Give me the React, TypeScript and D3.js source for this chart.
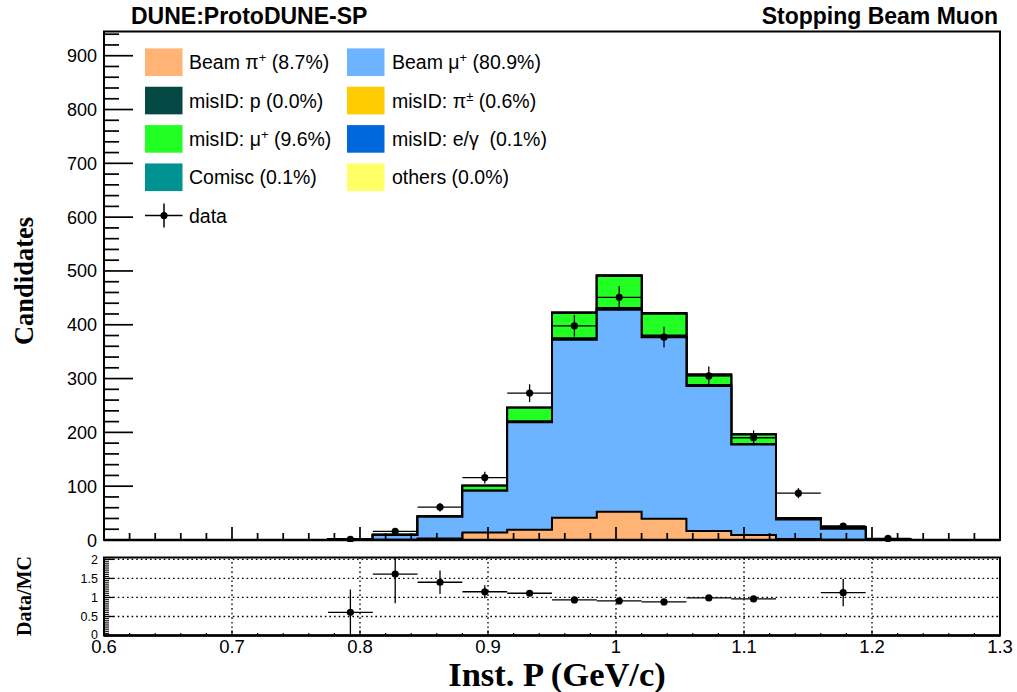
import React from 'react';
import * as d3 from 'd3';

// ---------- DATA ----------
const xEdges = [0.6, 0.635, 0.67, 0.705, 0.74, 0.775, 0.81, 0.845, 0.88, 0.915, 0.95, 0.985, 1.02, 1.055, 1.09, 1.125, 1.16, 1.195, 1.23, 1.265, 1.3];

const beamPi = [0, 0, 0, 0, 0, 0, 0.5, 3, 14, 19, 41.5, 52.5, 39.5, 16.7, 9.3, 2, 0.5, 0, 0, 0];
const beamMu = [0, 0, 0, 0, 0, 1.5, 9.0, 40.4, 77.7, 199.8, 330.5, 375.5, 337.5, 269.3, 168.3, 36, 20.5, 0.5, 0, 0];
const misP = [0, 0, 0, 0, 0, 0, 0, 0, 0, 0, 0, 0, 0, 0, 0, 0, 0, 0, 0, 0];
const misPi = [0, 0, 0, 0, 0, 0, 0, 0, 0, 2, 3, 3, 3, 2, 1, 0, 0, 0, 0, 0];
const misMu = [0, 0, 0, 0, 0, 0.1, 0.2, 0.2, 9.3, 25.2, 47, 59.5, 40.5, 18.4, 17.3, 2.3, 2.5, 0.5, 0, 0];
const misEG = [0, 0, 0, 0, 0, 0, 0, 0, 0, 0, 0, 1, 1, 0, 0, 0, 0, 0, 0, 0];
const cosmic = [0, 0, 0, 0, 0, 0, 0, 0, 0, 0, 1, 0, 0, 1, 0, 0, 0, 0, 0, 0];
const others = [0, 0, 0, 0, 0, 0, 0, 0, 0, 0, 0, 0, 0, 0, 0, 0, 0, 0, 0, 0];

const dataCounts = [0, 0, 0, 0, 0, 1, 16, 61, 116, 273, 398, 451, 377, 305, 190, 87, 26, 3, 0, 0];

const ratioValues = [null, null, null, null, null, 0.61, 1.615, 1.40, 1.15, 1.11, 0.935, 0.908, 0.882, 0.987, 0.96, null, 1.126, null, null, null];
const ratioErrors = [null, null, null, null, null, 0.6, 0.77, 0.31, 0.17, 0.07, 0.05, 0.045, 0.046, 0.057, 0.07, null, 0.36, null, null, null];

const xTickValues = [0.6, 0.7, 0.8, 0.9, 1.0, 1.1, 1.2, 1.3];
const xTickLabels = ['0.6', '0.7', '0.8', '0.9', '1', '1.1', '1.2', '1.3'];
const yTickValues = [0, 100, 200, 300, 400, 500, 600, 700, 800, 900];
const ratioTickValues = [0, 0.5, 1, 1.5, 2];
const ratioTickLabels = ['0', '0.5', '1', '1.5', '2'];

const seriesKeys = ['beamPi', 'beamMu', 'misP', 'misPi', 'misMu', 'misEG', 'cosmic', 'others'];
const seriesColors: Record<string, string> = {
  beamPi: '#ffb375',
  beamMu: '#6cb4ff',
  misP: '#034842',
  misPi: '#ffcc00',
  misMu: '#22ff22',
  misEG: '#0068dc',
  cosmic: '#009191',
  others: '#ffff66',
};

type Part = { t: string; sup?: boolean };
const legendEntries: { key: string; parts: Part[] }[] = [
  { key: 'beamPi', parts: [{ t: 'Beam ' }, { t: 'π' }, { t: '+', sup: true }, { t: ' (8.7%)' }] },
  { key: 'beamMu', parts: [{ t: 'Beam ' }, { t: 'μ' }, { t: '+', sup: true }, { t: ' (80.9%)' }] },
  { key: 'misP', parts: [{ t: 'misID: p (0.0%)' }] },
  { key: 'misPi', parts: [{ t: 'misID: ' }, { t: 'π' }, { t: '±', sup: true }, { t: ' (0.6%)' }] },
  { key: 'misMu', parts: [{ t: 'misID: ' }, { t: 'μ' }, { t: '+', sup: true }, { t: ' (9.6%)' }] },
  { key: 'misEG', parts: [{ t: 'misID: e/γ\u00a0 (0.1%)' }] },
  { key: 'cosmic', parts: [{ t: 'Comisc (0.1%)' }] },
  { key: 'others', parts: [{ t: 'others (0.0%)' }] },
];

// ---------- LAYOUT ----------
const W = 1017, H = 692;
const L = 104, R = 1000;
const topY = 31.5, botY = 540;
const rTop = 557.5, rBot = 635.5;
const SANS = '"Liberation Sans", Arial, Helvetica, sans-serif';
const SERIF = '"Liberation Serif", "Times New Roman", Times, serif';

const x = d3.scaleLinear().domain([0.6, 1.3]).range([L, R]);
const y = d3.scaleLinear().domain([0, 945]).range([botY, topY]);
const yr = d3.scaleLinear().domain([0, 2.05]).range([rBot, rTop]);

const rows = xEdges.slice(0, -1).map((_, i) => ({
  beamPi: beamPi[i], beamMu: beamMu[i], misP: misP[i], misPi: misPi[i],
  misMu: misMu[i], misEG: misEG[i], cosmic: cosmic[i], others: others[i],
}));
const stacked = d3.stack<any>().keys(seriesKeys)(rows);

function stepPath(vals: number[]) {
  let p = `M${x(xEdges[0])},${y(0)}`;
  vals.forEach((v, i) => {
    p += `V${y(v)}H${x(xEdges[i + 1])}`;
  });
  p += `V${y(0)}Z`;
  return p;
}

function LegendText({ parts, tx, ty }: { parts: Part[]; tx: number; ty: number }) {
  return (
    <text x={tx} y={ty} fontFamily={SANS} fontSize={19.5} fill="#000">
      {parts.map((p, i) =>
        p.sup ? (
          <tspan key={i} fontSize={13} dy={-7}>{p.t}</tspan>
        ) : (
          <tspan key={i} dy={i > 0 && parts[i - 1].sup ? 7 : 0}>{p.t}</tspan>
        )
      )}
    </text>
  );
}

export default function App() {
  const yMinor = d3.range(0, 945, 20).filter((v) => v % 100 !== 0);
  const xMinor = d3.range(0, 36).map((i) => 0.6 + i * 0.02).filter((v) => Math.abs(v * 10 - Math.round(v * 10)) > 1e-6);
  const xMajor = xTickValues;
  const rMinor = d3.range(0, 42).map((i) => i * 0.05).filter((v) => Math.abs(v * 2 - Math.round(v * 2)) > 1e-6);

  const legRow0 = 62.2, legStep = 38.35;
  const colBoxX = [145, 347];
  const colTextX = [189, 392];

  return (
    <svg width={W} height={H} style={{ position: 'absolute', left: 0, top: 0, background: '#fff' }}>
      <defs>
        <clipPath id="topClip"><rect x={L} y={topY} width={R - L} height={botY - topY + 2} /></clipPath>
        <clipPath id="ratioClip"><rect x={L} y={rTop} width={R - L} height={rBot - rTop} /></clipPath>
      </defs>
      <rect x={0} y={0} width={W} height={H} fill="#fff" />

      {/* Titles */}
      <text x={131} y={24} fontFamily={SANS} fontWeight="bold" fontSize={23}>DUNE:ProtoDUNE-SP</text>
      <text x={998} y={24} textAnchor="end" fontFamily={SANS} fontWeight="bold" fontSize={23}>Stopping Beam Muon</text>

      {/* Stacked histograms */}
      <g clipPath="url(#topClip)">
        {stacked.slice().reverse().map((s) => (
          <path
            key={s.key}
            d={stepPath(s.map((d) => d[1]))}
            fill={seriesColors[s.key]}
            stroke="#000"
            strokeWidth={2}
          />
        ))}
        {/* data */}
        {dataCounts.map((v, i) => {
          if (v <= 0) return null;
          const cx = x((xEdges[i] + xEdges[i + 1]) / 2);
          const e = Math.sqrt(v);
          return (
            <g key={i}>
              <line x1={x(xEdges[i])} x2={x(xEdges[i + 1])} y1={y(v)} y2={y(v)} stroke="#000" strokeWidth={1.3} />
              <line x1={cx} x2={cx} y1={y(v - e)} y2={y(v + e)} stroke="#000" strokeWidth={1.3} />
              <circle cx={cx} cy={y(v)} r={3.6} fill="#000" />
            </g>
          );
        })}
      </g>

      {/* Top panel ticks */}
      {yTickValues.map((v) => (
        <line key={'ym' + v} x1={L} x2={L + 29} y1={y(v)} y2={y(v)} stroke="#000" strokeWidth={1.7} />
      ))}
      {yMinor.map((v) => (
        <line key={'yn' + v} x1={L} x2={L + 15} y1={y(v)} y2={y(v)} stroke="#000" strokeWidth={1.7} />
      ))}
      {xMajor.map((v) => (
        <line key={'xm' + v} x1={x(v)} x2={x(v)} y1={botY} y2={botY - 13} stroke="#000" strokeWidth={1.7} />
      ))}
      {xMinor.map((v) => (
        <line key={'xn' + v} x1={x(v)} x2={x(v)} y1={botY} y2={botY - 7} stroke="#000" strokeWidth={1.7} />
      ))}
      {yTickValues.map((v) => (
        <text key={'yl' + v} x={97} y={y(v) + 6.5} textAnchor="end" fontFamily={SANS} fontSize={18}>{v}</text>
      ))}
      <rect x={L} y={topY} width={R - L} height={botY - topY} fill="none" stroke="#000" strokeWidth={2} />
      <line x1={L} x2={R} y1={botY} y2={botY} stroke="#000" strokeWidth={2.5} />

      {/* Legend */}
      {legendEntries.map((e, idx) => {
        const row = Math.floor(idx / 2);
        const col = idx % 2;
        const cy = legRow0 + row * legStep;
        return (
          <g key={e.key}>
            <rect x={colBoxX[col]} y={cy - 13.8} width={37.5} height={27.6} fill={seriesColors[e.key]} />
            <LegendText parts={e.parts} tx={colTextX[col]} ty={cy + 7} />
          </g>
        );
      })}
      {(() => {
        const cy = legRow0 + 4 * legStep;
        const cx = 164;
        return (
          <g>
            <line x1={145} x2={182.5} y1={cy} y2={cy} stroke="#000" strokeWidth={1.5} />
            <line x1={cx} x2={cx} y1={cy - 12} y2={cy + 12} stroke="#000" strokeWidth={1.5} />
            <circle cx={cx} cy={cy} r={3.6} fill="#000" />
            <text x={189} y={cy + 7} fontFamily={SANS} fontSize={19.5}>data</text>
          </g>
        );
      })()}

      {/* Axis titles */}
      <text transform={`translate(33,281) rotate(-90)`} textAnchor="middle" fontFamily={SERIF} fontWeight="bold" fontSize={26.5}>Candidates</text>
      <text transform={`translate(31,596) rotate(-90)`} textAnchor="middle" fontFamily={SERIF} fontWeight="bold" fontSize={20}>Data/MC</text>
      <text x={557} y={686} textAnchor="middle" fontFamily={SERIF} fontWeight="bold" fontSize={34.5}>Inst. P (GeV/c)</text>

      {/* Ratio panel */}
      {ratioTickValues.filter((v) => v > 0).map((v) => (
        <line key={'rg' + v} x1={L} x2={R} y1={yr(v)} y2={yr(v)} stroke="#000" strokeWidth={1.3} strokeDasharray="1.6,3" />
      ))}
      {xMajor.filter((v) => v > 0.61 && v < 1.29).map((v) => (
        <line key={'rv' + v} x1={x(v)} x2={x(v)} y1={rTop} y2={rBot} stroke="#000" strokeWidth={1.3} strokeDasharray="1.6,3" />
      ))}
      {rMinor.map((v) => (
        <line key={'rn' + v} x1={L} x2={L + 5} y1={yr(v)} y2={yr(v)} stroke="#000" strokeWidth={1} />
      ))}
      {ratioTickValues.map((v) => (
        <line key={'rm' + v} x1={L} x2={L + 10} y1={yr(v)} y2={yr(v)} stroke="#000" strokeWidth={1.3} />
      ))}
      {xMinor.map((v) => (
        <line key={'rxn' + v} x1={x(v)} x2={x(v)} y1={rBot} y2={rBot - 2.5} stroke="#000" strokeWidth={1.2} />
      ))}
      {xMajor.map((v) => (
        <line key={'rxm' + v} x1={x(v)} x2={x(v)} y1={rBot} y2={rBot - 5} stroke="#000" strokeWidth={1.2} />
      ))}
      <g clipPath="url(#ratioClip)">
        {ratioValues.map((v, i) => {
          if (v === null) return null;
          const e = ratioErrors[i] as number;
          const cx = x((xEdges[i] + xEdges[i + 1]) / 2);
          return (
            <g key={i}>
              <line x1={x(xEdges[i])} x2={x(xEdges[i + 1])} y1={yr(v)} y2={yr(v)} stroke="#000" strokeWidth={1.3} />
              <line x1={cx} x2={cx} y1={yr(v - e)} y2={yr(v + e)} stroke="#000" strokeWidth={1.3} />
              <circle cx={cx} cy={yr(v)} r={3.6} fill="#000" />
            </g>
          );
        })}
      </g>
      <rect x={L} y={rTop} width={R - L} height={rBot - rTop} fill="none" stroke="#000" strokeWidth={2} />
      <line x1={L} x2={R} y1={rBot} y2={rBot} stroke="#000" strokeWidth={2.5} />
      {ratioTickValues.map((v, i) => (
        <text key={'rl' + v} x={98} y={yr(v) + 4.5 - (v === 0 ? 1.5 : 0)} textAnchor="end" fontFamily={SANS} fontSize={12.5}>{ratioTickLabels[i]}</text>
      ))}
      {xTickValues.map((v, i) => (
        <text key={'xl' + v} x={x(v)} y={652.5} textAnchor="middle" fontFamily={SANS} fontSize={18.5}>{xTickLabels[i]}</text>
      ))}
    </svg>
  );
}
